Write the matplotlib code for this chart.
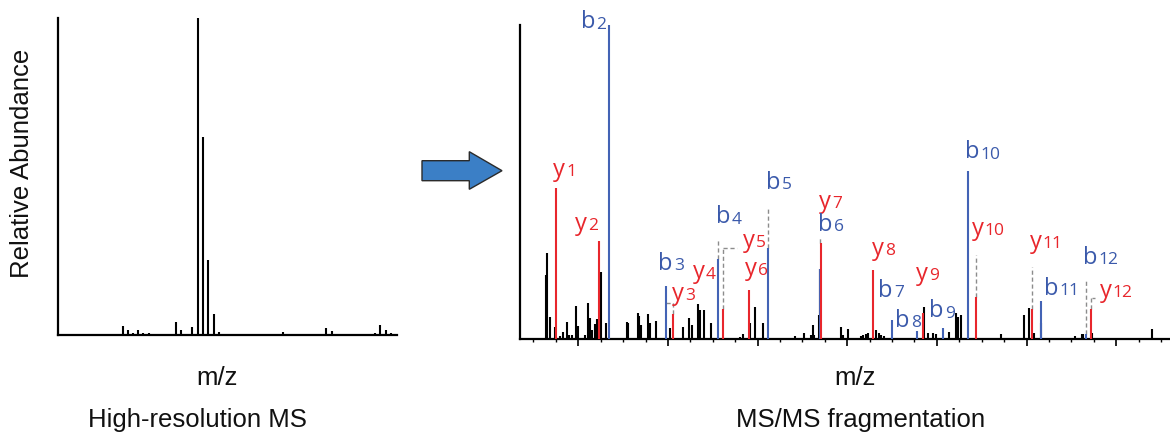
import matplotlib
matplotlib.use("Agg")
import matplotlib.pyplot as plt
from matplotlib.patches import Polygon
from matplotlib.ticker import MultipleLocator, NullFormatter

# ---------------- data ----------------
# Left panel: high-resolution MS (m/z, relative abundance %)
hr_mz = [484, 548, 567, 587, 607, 627, 648, 732, 751, 772, 813, 836, 856, 876,
         897, 917, 1126, 1139, 1163, 1278, 1329, 1350, 1493, 1516, 1535, 1557, 1577]
hr_int = [0.3, 2.9, 1.6, 0.6, 1.6, 0.7, 0.5, 0.3, 4.1, 1.6, 2.5, 100, 62.5, 23.7,
          6.6, 0.9, 0.3, 0.3, 0.9, 0.3, 2.2, 1.3, 0.3, 0.6, 3.2, 1.6, 0.5]

# Right panel: MS/MS fragmentation, unassigned peaks
ms2_mz = [328, 331, 337, 348, 359, 367, 375, 379, 385, 394, 400, 415, 422, 426,
          430, 437, 442, 450, 461, 508, 512, 533, 536, 540, 555, 559, 573, 605,
          634, 648, 653, 668, 672, 681, 696, 761, 768, 783, 794, 812, 884, 904,
          919, 923, 926, 938, 940, 986, 990, 1001, 1031, 1036, 1042, 1047, 1065,
          1070, 1076, 1082, 1172, 1180, 1191, 1198, 1226, 1243, 1248, 1254, 1344,
          1395, 1406, 1416, 1433, 1509, 1524, 1527, 1547, 1680]
ms2_int = [20.5, 27.4, 7.2, 4.0, 1.0, 2.4, 5.6, 1.4, 1.4, 10.6, 4.2, 1.4, 11.5, 6.8,
           3.0, 4.9, 6.4, 21.3, 5.3, 5.6, 5.2, 8.5, 7.4, 4.5, 8.0, 5.2, 5.9, 3.5,
           4.0, 6.9, 4.5, 11.1, 9.3, 9.3, 5.1, 0.8, 1.6, 5.2, 10.2, 5.1, 1.0, 1.9,
           1.4, 4.5, 1.4, 7.7, 22.3, 3.8, 1.4, 3.3, 1.0, 1.4, 1.7, 2.1, 3.0,
           1.9, 1.4, 1.0, 10.4, 1.9, 1.9, 1.6, 2.4, 8.5, 7.2, 7.7, 1.6,
           7.7, 9.9, 2.0, 5.1, 1.0, 1.6, 1.6, 1.9, 3.3]

# b ions
b_names = ["b2", "b3", "b4", "b5", "b6", "b7", "b8", "b9", "b10", "b11", "b12"]
b_mz = [468.5, 595.8, 711.2, 824.1, 938.3, 1099.6, 1155.4, 1214.7, 1270.5, 1432.8, 1533.2]
b_int = [100, 17.0, 25.5, 29.0, 22.4, 6.1, 2.7, 3.7, 53.6, 12.2, 1.7]

# y ions (y4 shares the b4 peak)
y_names = ["y1", "y2", "y3", "y5", "y6", "y7", "y8", "y9", "y10", "y11", "y12"]
y_mz = [349.6, 446.2, 610.7, 723.7, 781.7, 941.8, 1057.1, 1170.1, 1287.0, 1412.0, 1543.7]
y_int = [48.2, 31.4, 8.0, 9.6, 15.7, 30.5, 22.0, 8.5, 13.4, 9.5, 9.5]

# ---------------- styles / layout ----------------
W, H = 1170, 434
BLUE = "#4363b5"
RED = "#e8262c"
BLUE_TXT = "#3b5aab"
GREY = "#8c8c8c"

# label anchors: (name, left m/z, baseline intensity)
label_pos = {
    "b2": (405, 98.9), "y1": (344, 52.0), "y2": (392.6, 34.8), "b3": (578.6, 22.0),
    "y3": (608.5, 12.5), "y4": (655.7, 19.4), "b4": (707.4, 36.9), "y5": (767.3, 29.5),
    "y6": (771.1, 20.5), "b5": (819.0, 47.8), "y7": (937.9, 41.9), "b6": (935.7, 34.6),
    "y8": (1054.9, 26.8), "b7": (1069.6, 13.6), "y9": (1153.8, 18.9), "b8": (1107.3, 4.0),
    "b9": (1183.5, 7.0), "b10": (1263.2, 57.6), "y10": (1278.1, 33.2), "y11": (1406.7, 29.0),
    "b11": (1438.0, 14.1), "b12": (1525.0, 24.0), "y12": (1563.0, 13.6),
}
# dashed connectors: vertical (x, y0, y1) and horizontal (y, x0, x1)
dash_v = [(711.2, 25.5, 31.6), (723.7, 9.6, 29.0), (824.1, 29.0, 42.2), (939.5, 30.5, 32.2),
          (1287.0, 13.4, 26.8), (1412.0, 9.5, 23.1), (1533.2, 1.7, 18.9),
          (1543.7, 9.5, 13.1), (610.7, 8.0, 12.0)]
dash_h = [(29.0, 723.7, 753.6), (13.1, 1546.0, 1553.4), (11.6, 595.8, 608.5)]

fig = plt.figure(figsize=(W / 100, H / 100), dpi=100)

def px_rect(x0, ytop, x1, ybot):
    return [x0 / W, 1 - ybot / H, (x1 - x0) / W, (ybot - ytop) / H]

# ---------- left panel ----------
axl = fig.add_axes(px_rect(58, 18, 397, 335))
axl.vlines(hr_mz, 0, hr_int, color="black", lw=1.5, capstyle="butt")
axl.set_xlim(300, 1600)
axl.set_ylim(0, 100)
for s in ("top", "right"):
    axl.spines[s].set_visible(False)
for s in ("left", "bottom"):
    axl.spines[s].set_linewidth(1.6)
axl.set_xticks([])
axl.set_yticks([])
axl.patch.set_alpha(0)

# ---------- right panel ----------
axr = fig.add_axes(px_rect(520, 25, 1170, 339.3))
axr.set_xlim(270, 1720)
axr.set_ylim(0, 100)
axr.vlines(ms2_mz, 0, ms2_int, color="black", lw=1.5, capstyle="butt", zorder=2)
axr.vlines(b_mz, 0, b_int, color=BLUE, lw=1.5, capstyle="butt", zorder=3)
axr.vlines(y_mz, 0, y_int, color=RED, lw=1.5, capstyle="butt", zorder=3)
for x, y0, y1 in dash_v:
    axr.plot([x, x], [y0, y1], color=GREY, lw=1.0, ls=(0, (3, 2)), zorder=1)
for y, x0, x1 in dash_h:
    axr.plot([x0, x1], [y, y], color=GREY, lw=1.0, ls=(0, (3, 2)), zorder=1)

for s in ("top", "right"):
    axr.spines[s].set_visible(False)
for s in ("left", "bottom"):
    axr.spines[s].set_linewidth(1.6)
axr.set_yticks([])
axr.xaxis.set_major_locator(MultipleLocator(200))
axr.xaxis.set_minor_locator(MultipleLocator(50))
axr.xaxis.set_major_formatter(NullFormatter())
axr.tick_params(axis="x", which="major", length=5, width=1.2, direction="out")
axr.tick_params(axis="x", which="minor", length=2.5, width=1.0, direction="out")
axr.patch.set_alpha(0)

# ion labels (small index digit set on the letter's baseline)
for name, (lx, ly) in label_pos.items():
    col = BLUE_TXT if name[0] == "b" else RED
    t = axr.text(lx, ly, name[0], ha="left", va="baseline", color=col,
                 fontsize=17, family="Open Sans", zorder=5)
    axr.annotate(name[1:], xy=(1, 0), xycoords=t, xytext=(0.8, 1.2),
                 textcoords="offset points", ha="left", va="bottom",
                 color=col, fontsize=12.5, family="Open Sans", zorder=5)

# ---------- texts ----------
tf = dict(family="Liberation Sans", fontsize=18.5, color="#111111")
fig.text(22 / W, 1 - 163.5 / H, "Relative Abundance", rotation=90,
         ha="center", va="center", **tf)
fig.text(217 / W, 1 - 378 / H, "m/z", ha="center", va="center", **tf)
fig.text(855 / W, 1 - 378 / H, "m/z", ha="center", va="center", **tf)
fig.text(197.5 / W, 1 - 427 / H, "High-resolution MS", ha="center", va="baseline", **tf)
fig.text(861 / W, 1 - 427 / H, "MS/MS fragmentation", ha="center", va="baseline", **tf)

# ---------- arrow ----------
arrow_px = [(422, 160.7), (469.3, 160.7), (469.3, 151.7), (502, 170.7),
            (469.3, 189.3), (469.3, 180.7), (422, 180.7)]
arrow = Polygon([(x / W, 1 - y / H) for x, y in arrow_px], closed=True,
                transform=fig.transFigure, facecolor="#3b7fc6",
                edgecolor="#2b2b2b", lw=1.0)
fig.patches.append(arrow)

fig.savefig("out.png", dpi=100)
